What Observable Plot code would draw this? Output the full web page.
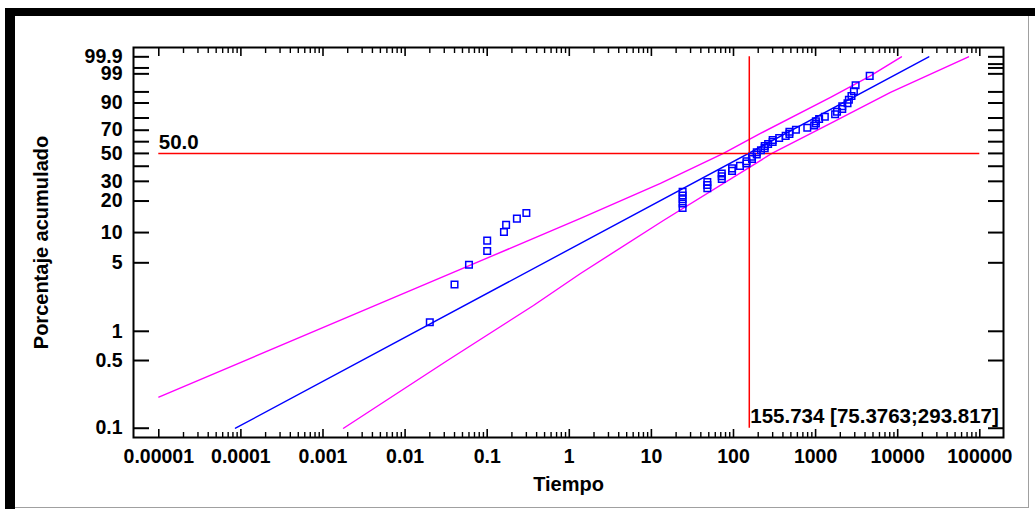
<!DOCTYPE html>
<html><head><meta charset="utf-8">
<script src="https://cdn.jsdelivr.net/npm/d3@7"></script>
<script src="https://cdn.jsdelivr.net/npm/@observablehq/plot@0.6"></script>
<style>
body{margin:0;background:#fff;}
#wrap{position:relative;width:1035px;height:509px;overflow:hidden;background:#fff;}
#wrap svg{position:absolute;left:0;top:0;}
.deco{position:absolute;}
</style></head><body><div id="wrap"></div>
<script>
// ---- data ----
const sampleTimes = [0.02,0.04,0.06,0.1,0.1,0.16,0.17,0.23,0.3,
  24,24,24,24,24, 48,48,48, 72,72,72, 96,96, 120, 144,144, 168,168, 192,192, 216,
  240,240, 264, 300,300, 360, 432, 480,480, 576, 792, 960, 1008,1008, 1104, 1296,
  1728, 1824, 2112,2112, 2448, 2544, 2736, 2928, 3072, 4560];
const samplePercents = [1.24,3.01,4.79,6.56,8.33,10.11,11.88,13.65,15.43,
  17.20,18.97,20.74,22.52,24.29, 26.06,27.84,29.61, 31.38,33.16,34.93, 36.70,38.48, 40.25,
  42.02,43.79, 45.57,47.34, 49.11,50.89, 52.66, 54.43,56.21, 57.98, 59.75,61.52, 63.30,
  65.07, 66.84,68.62, 70.39, 72.16, 73.94, 75.71,77.48, 79.26, 81.03, 82.80, 84.57,
  86.35,88.12, 89.89, 91.67, 93.44, 95.21, 96.99, 98.76];

const fitTimes = [0.000086, 23900];
const fitPercents = [0.1, 99.9];
const upperTimes = [0.00001, 0.0134, 1.37, 12.9, 75.3763, 213, 1520, 4540, 11100];
const upperPercents = [0.21, 2.75, 13.7, 28.8, 50, 67.2, 92.8, 98.7, 99.9];
const lowerTimes = [0.00178, 0.0328, 0.366, 1.37, 14.0, 293.817, 1520, 8170, 72800];
const lowerPercents = [0.1, 0.5, 1.84, 3.9, 13.1, 50, 75.7, 94.8, 99.9];

const medianTime = 155.734;
const medianLabel = "155.734 [75.3763;293.817]";
const refPercent = 50;
const refLabel = "50.0";

const xTickValues = [1e-5,1e-4,1e-3,1e-2,1e-1,1,10,100,1000,10000,100000];
const xTickLabels = ["0.00001","0.0001","0.001","0.01","0.1","1","10","100","1000","10000","100000"];
const xMinorMultipliers = [2,3,4,5,6,7,8,9];
const yTickPercents = [0.1,0.5,1,5,10,20,30,40,50,60,70,80,90,95,99,99.5,99.9];
const yRightExtraPercents = [99.7];
const yLabelPercents = [0.1,0.5,1,5,10,20,30,50,70,90,99,99.9];
const yLabelTexts = ["0.1","0.5","1","5","10","20","30","50","70","90","99","99.9"];
const xDomain = [4.92e-6, 1.944e5];
const yDomainPercents = [0.0802, 99.982];

// ---- helpers ----
const W = p => Math.log(-Math.log(1 - p / 100));
const zip = (ts, ps) => ts.map((t, i) => ({t, p: ps[i]}));
const points = zip(sampleTimes, samplePercents);
const fit = zip(fitTimes, fitPercents);
const upper = zip(upperTimes, upperPercents);
const lower = zip(lowerTimes, lowerPercents);
const xMinor = [];
xTickValues.slice(0, -1).forEach(d => xMinorMultipliers.forEach(m => xMinor.push(d * m)));
const yTickW = yTickPercents.map(W);
const yRightW = yTickPercents.concat(yRightExtraPercents).map(W);
const yLabelW = yLabelPercents.map(W);
const yv = d => W(d.p);

const font = "'Liberation Sans', Arial, Helvetica, sans-serif";
const fs = 19.5;
const fsNote = 20.5;
const blank = () => "";

const chart = Plot.plot({
  width: 1035, height: 509,
  marginLeft: 133, marginRight: 32, marginTop: 47, marginBottom: 72,
  style: {fontFamily: font, fontWeight: "bold", fontSize: fs + "px", background: "transparent", color: "#000", overflow: "visible"},
  x: {type: "log", domain: xDomain},
  y: {type: "linear", domain: yDomainPercents.map(W)},
  marks: [
    // confidence bands & fit
    Plot.line(upper, {x: "t", y: yv, stroke: "#ff00ff", strokeWidth: 1.4}),
    Plot.line(lower, {x: "t", y: yv, stroke: "#ff00ff", strokeWidth: 1.4}),
    Plot.line(fit, {x: "t", y: yv, stroke: "#0000ff", strokeWidth: 1.4}),
    // reference lines
    Plot.ruleY([{y: W(refPercent), x1: xTickValues[0], x2: xTickValues[xTickValues.length - 1]}], {y: "y", x1: "x1", x2: "x2", stroke: "#ff0000", strokeWidth: 1.5}),
    Plot.ruleX([{x: medianTime, y1: W(yTickPercents[0]), y2: W(yTickPercents[yTickPercents.length - 1])}], {x: "x", y1: "y1", y2: "y2", stroke: "#ff0000", strokeWidth: 1.5}),
    // points
    Plot.dot(points, {x: "t", y: yv, symbol: "square", r: 3.7, stroke: "#0000ff", strokeWidth: 1.5, fill: "none"}),
    // texts
    Plot.text([{t: xTickValues[0], p: refPercent, s: refLabel}], {x: "t", y: yv, text: "s", textAnchor: "start", lineAnchor: "bottom", dy: -4, fontSize: fsNote}),
    Plot.text([{t: medianTime, p: yTickPercents[0], s: medianLabel}], {x: "t", y: yv, text: "s", textAnchor: "start", lineAnchor: "bottom", dx: 1, dy: -5, fontSize: fsNote}),
    // frame
    Plot.frame({stroke: "#000", strokeWidth: 2}),
    // x ticks (inward)
    Plot.axisX(xTickValues, {anchor: "bottom", tickSize: -8, tickFormat: blank, label: null, strokeWidth: 1.6}),
    Plot.axisX(xMinor, {anchor: "bottom", tickSize: -5, tickFormat: blank, label: null, strokeWidth: 1.4}),
    Plot.axisX(xTickValues, {anchor: "top", tickSize: -8, tickFormat: blank, label: null, strokeWidth: 1.6}),
    Plot.axisX(xMinor, {anchor: "top", tickSize: -5, tickFormat: blank, label: null, strokeWidth: 1.4}),
    Plot.axisX(xTickValues, {anchor: "bottom", tickSize: 0, tickPadding: 12, label: null, fontSize: fs,
      tickFormat: d => xTickLabels[xTickValues.indexOf(d)]}),
    // y ticks (inward)
    Plot.axisY(yTickW, {anchor: "left", tickSize: -16, tickFormat: blank, label: null, strokeWidth: 2}),
    Plot.axisY(yRightW, {anchor: "right", tickSize: -16, tickFormat: blank, label: null, strokeWidth: 2}),
    Plot.axisY(yLabelW, {anchor: "left", tickSize: 0, tickPadding: 11, label: null, fontSize: fs,
      tickFormat: d => yLabelTexts[yLabelW.indexOf(d)]}),
    // axis titles
    Plot.text(["Tiempo"], {frameAnchor: "bottom", text: d => d, textAnchor: "middle", lineAnchor: "middle", dy: 47, fontSize: 20}),
    Plot.text(["Porcentaje acumulado"], {frameAnchor: "left", text: d => d, textAnchor: "middle", lineAnchor: "middle", rotate: -90, dx: -92, fontSize: 20})
  ]
});
const wrap = document.getElementById("wrap");
wrap.appendChild(chart);
// window-like border decoration
[
  {l: 5, t: 8, w: 1030, h: 8, c: "#000"},
  {l: 5, t: 8, w: 10, h: 501, c: "#000"},
  {l: 1028, t: 16, w: 1, h: 492, c: "#a0a0a0"},
  {l: 15, t: 507, w: 1014, h: 1, c: "#a0a0a0"}
].forEach(b => {
  const d = document.createElement("div");
  d.className = "deco";
  Object.assign(d.style, {left: b.l + "px", top: b.t + "px", width: b.w + "px", height: b.h + "px", background: b.c});
  wrap.appendChild(d);
});
</script></body></html>
